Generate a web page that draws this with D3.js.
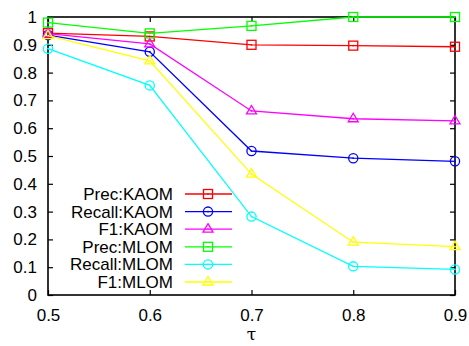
<!DOCTYPE html>
<html>
<head>
<meta charset="utf-8">
<script src="https://cdn.jsdelivr.net/npm/d3@7"></script>
<style>
  body { margin: 0; background: #fff; }
  text { font-family: "Liberation Sans", Arial, sans-serif; }
</style>
</head>
<body>
<svg id="chart" width="469" height="346"></svg>
<script>
// data
var taus = [0.5, 0.6, 0.7, 0.8, 0.9];
var precKAOM   = [0.942, 0.930, 0.900, 0.897, 0.893];
var recallKAOM = [0.935, 0.875, 0.518, 0.492, 0.481];
var f1KAOM     = [0.940, 0.903, 0.662, 0.634, 0.626];
var precMLOM   = [0.980, 0.941, 0.968, 1.000, 1.000];
var recallMLOM = [0.886, 0.754, 0.282, 0.103, 0.092];
var f1MLOM     = [0.933, 0.842, 0.435, 0.190, 0.174];
var xTicks = [0.5, 0.6, 0.7, 0.8, 0.9];
var yTicks = [0, 0.1, 0.2, 0.3, 0.4, 0.5, 0.6, 0.7, 0.8, 0.9, 1];

var series = [
  {name: "Prec:KAOM",   vals: precKAOM,   color: "#ff0000", shape: "square"},
  {name: "Recall:KAOM", vals: recallKAOM, color: "#0000ff", shape: "circle"},
  {name: "F1:KAOM",     vals: f1KAOM,     color: "#ff00ff", shape: "triangle"},
  {name: "Prec:MLOM",   vals: precMLOM,   color: "#00ff00", shape: "square"},
  {name: "Recall:MLOM", vals: recallMLOM, color: "#00ffff", shape: "circle"},
  {name: "F1:MLOM",     vals: f1MLOM,     color: "#ffff00", shape: "triangle"}
];

var plotLeft = 48, plotRight = 455, plotTop = 17, plotBottom = 295;
var fontSize = 17;
var svg = d3.select("#chart");

var x = d3.scaleLinear().domain([0.5, 0.9]).range([plotLeft, plotRight]);
var y = d3.scaleLinear().domain([0, 1]).range([plotBottom, plotTop]);

// axes with inward ticks (mirrored like gnuplot)
var tickLen = 5;
svg.append("g")
  .attr("transform", "translate(0," + plotBottom + ")")
  .call(d3.axisBottom(x).tickValues(xTicks).tickSize(-tickLen).tickPadding(14).tickFormat(d3.format(".1f")))
  .call(g => g.select(".domain").remove())
  .call(g => g.selectAll("text").attr("font-size", fontSize).attr("fill", "#000").attr("font-family", "Liberation Sans, Arial, sans-serif"));
svg.append("g")
  .attr("transform", "translate(0," + plotTop + ")")
  .call(d3.axisTop(x).tickValues(xTicks).tickSize(-tickLen).tickFormat(""))
  .call(g => g.select(".domain").remove());
svg.append("g")
  .attr("transform", "translate(" + plotLeft + ",0)")
  .call(d3.axisLeft(y).tickValues(yTicks).tickSize(-tickLen).tickPadding(11).tickFormat(d => d === 0 || d === 1 ? d : d3.format(".1f")(d)))
  .call(g => g.select(".domain").remove())
  .call(g => g.selectAll("text").attr("font-size", fontSize).attr("fill", "#000").attr("font-family", "Liberation Sans, Arial, sans-serif"));
svg.append("g")
  .attr("transform", "translate(" + plotRight + ",0)")
  .call(d3.axisRight(y).tickValues(yTicks).tickSize(-tickLen).tickFormat(""))
  .call(g => g.select(".domain").remove());
svg.selectAll(".tick line").attr("stroke", "#000").attr("stroke-width", 1.2);

// frame
svg.append("rect")
  .attr("x", plotLeft).attr("y", plotTop)
  .attr("width", plotRight - plotLeft).attr("height", plotBottom - plotTop)
  .attr("fill", "none").attr("stroke", "#000").attr("stroke-width", 1.6);

// axis title
svg.append("text")
  .attr("x", (plotLeft + plotRight) / 2).attr("y", 340)
  .attr("text-anchor", "middle")
  .attr("font-size", 17)
  .style("font-family", "DejaVu Serif, serif")
  .text("\u03C4");

function drawMarker(g, shape, cx, cy, color) {
  if (shape == "square") {
    g.append("rect").attr("x", cx - 4.5).attr("y", cy - 4.5).attr("width", 9).attr("height", 9)
      .attr("fill", "none").attr("stroke", color).attr("stroke-width", 1.3);
  } else if (shape == "circle") {
    g.append("circle").attr("cx", cx).attr("cy", cy).attr("r", 4.6)
      .attr("fill", "none").attr("stroke", color).attr("stroke-width", 1.3);
  } else {
    g.append("path")
      .attr("d", "M" + cx + "," + (cy - 5.5) + "L" + (cx + 5) + "," + (cy + 3) + "L" + (cx - 5) + "," + (cy + 3) + "Z")
      .attr("fill", "none").attr("stroke", color).attr("stroke-width", 1.3);
  }
  g.append("rect").attr("x", cx - 0.75).attr("y", cy - 0.75).attr("width", 1.5).attr("height", 1.5).attr("fill", color);
}

var line = d3.line().x((d, i) => x(taus[i])).y(d => y(d));

series.forEach(function(s) {
  var g = svg.append("g");
  g.append("path").datum(s.vals)
    .attr("d", line)
    .attr("fill", "none").attr("stroke", s.color).attr("stroke-width", 1.3);
  s.vals.forEach(function(v, i) { drawMarker(g, s.shape, x(taus[i]), y(v), s.color); });
});

// legend
var legY0 = 194, legStep = 17.6;
series.forEach(function(s, i) {
  var ly = legY0 + i * legStep;
  var g = svg.append("g");
  g.append("text")
    .attr("x", 173).attr("y", ly + 6)
    .attr("text-anchor", "end").attr("font-size", fontSize).attr("fill", "#000")
    .text(s.name);
  g.append("line").attr("x1", 185).attr("x2", 232).attr("y1", ly).attr("y2", ly)
    .attr("stroke", s.color).attr("stroke-width", 1.3);
  drawMarker(g, s.shape, 208, ly, s.color);
});
</script>
</body>
</html>
